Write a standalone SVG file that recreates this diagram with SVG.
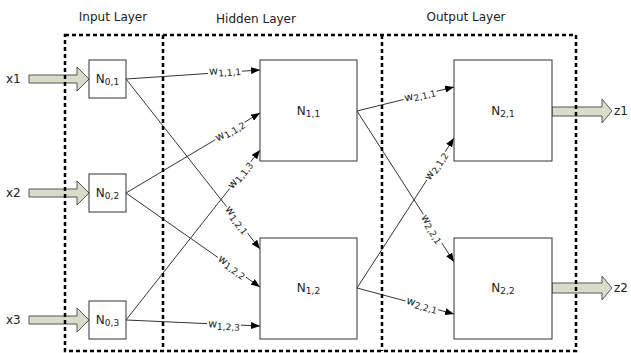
<svg xmlns="http://www.w3.org/2000/svg" width="631" height="353" viewBox="0 0 631 353">
<defs>
<marker id="ah" markerUnits="userSpaceOnUse" markerWidth="9" markerHeight="7" refX="9" refY="3.5" orient="auto"><path d="M0,0 L9,3.5 L0,7 z" fill="#000"/></marker>
<style>
text{font-family:"DejaVu Sans",Verdana,sans-serif;fill:#222}
.title{font-size:12px;text-anchor:middle}
.io{font-size:12px}
.nl{font-size:12px;text-anchor:middle}
.sub{font-size:9px}
.box{fill:#fff;stroke:#333;stroke-width:1}
.conn{stroke:#333;stroke-width:1;fill:none;marker-end:url(#ah)}
.wl{font-size:11px;text-anchor:middle}
.mask{fill:#fff}
.arr{fill:#dadcc9;stroke:#555;stroke-width:1}
.dash{fill:none;stroke:#000;stroke-width:2.5;stroke-dasharray:4,3}
</style>
</defs>
<g id="titles">
<text class="title" x="113" y="21">Input Layer</text>
<text class="title" x="256" y="23">Hidden Layer</text>
<text class="title" x="466" y="21">Output Layer</text>
</g>
<g id="inputs">
<text class="io" x="6" y="83">x1</text>
<polygon class="arr" points="29,75 77,75 77,67 89,79 77,91 77,83 29,83"/>
<text class="io" x="6" y="197">x2</text>
<polygon class="arr" points="29,189 77,189 77,181 89,193 77,205 77,197 29,197"/>
<text class="io" x="6" y="324">x3</text>
<polygon class="arr" points="29,316 77,316 77,308 89,320 77,332 77,324 29,324"/>
</g>
<g id="outputs">
<polygon class="arr" points="552,107 602,107 602,99 612,111 602,123 602,116 552,116"/>
<text class="io" x="614" y="115">z1</text>
<polygon class="arr" points="552,283 602,283 602,276 612,288 602,300 602,293 552,293"/>
<text class="io" x="614" y="292">z2</text>
</g>
<g id="connectors">
<line class="conn" x1="126" y1="79" x2="260" y2="70"/>
<line class="conn" x1="126" y1="79" x2="260" y2="249"/>
<line class="conn" x1="126" y1="193" x2="260" y2="113"/>
<line class="conn" x1="126" y1="193" x2="260" y2="287"/>
<line class="conn" x1="126" y1="320" x2="260" y2="150"/>
<line class="conn" x1="126" y1="320" x2="260" y2="326"/>
<line class="conn" x1="357" y1="111" x2="454" y2="87"/>
<line class="conn" x1="357" y1="111" x2="454" y2="262"/>
<line class="conn" x1="357" y1="288" x2="454" y2="138"/>
<line class="conn" x1="357" y1="288" x2="454" y2="314"/>
<g id="weights">
<g transform="translate(225,71) rotate(-3.8)"><rect class="mask" x="-17" y="-5" width="34" height="12"/><text class="wl" y="3">w<tspan class="sub" dy="2">1,1,1</tspan></text></g>
<g transform="translate(230,131) rotate(-30.8)"><rect class="mask" x="-17" y="-5" width="34" height="12"/><text class="wl" y="3">w<tspan class="sub" dy="2">1,1,2</tspan></text></g>
<g transform="translate(240,175) rotate(-51.7)"><rect class="mask" x="-17" y="-5" width="34" height="12"/><text class="wl" y="3">w<tspan class="sub" dy="2">1,1,3</tspan></text></g>
<g transform="translate(237,220) rotate(51.7)"><rect class="mask" x="-17" y="-5" width="34" height="12"/><text class="wl" y="3">w<tspan class="sub" dy="2">1,2,1</tspan></text></g>
<g transform="translate(232,267) rotate(35)"><rect class="mask" x="-17" y="-5" width="34" height="12"/><text class="wl" y="3">w<tspan class="sub" dy="2">1,2,2</tspan></text></g>
<g transform="translate(224,325) rotate(2.6)"><rect class="mask" x="-17" y="-5" width="34" height="12"/><text class="wl" y="3">w<tspan class="sub" dy="2">1,2,3</tspan></text></g>
<g transform="translate(420,95) rotate(-13.9)"><rect class="mask" x="-17" y="-5" width="34" height="12"/><text class="wl" y="3">w<tspan class="sub" dy="2">2,1,1</tspan></text></g>
<g transform="translate(436,166) rotate(-57)"><rect class="mask" x="-17" y="-5" width="34" height="12"/><text class="wl" y="3">w<tspan class="sub" dy="2">2,1,2</tspan></text></g>
<g transform="translate(432,229) rotate(57.3)"><rect class="mask" x="-17" y="-5" width="34" height="12"/><text class="wl" y="3">w<tspan class="sub" dy="2">2,2,1</tspan></text></g>
<g transform="translate(422,305) rotate(15)"><rect class="mask" x="-17" y="-5" width="34" height="12"/><text class="wl" y="3">w<tspan class="sub" dy="2">2,2,1</tspan></text></g>
</g>
</g>
<g id="N01"><rect class="box" x="89" y="60" width="37" height="38"/><text class="nl" x="107.5" y="83">N<tspan class="sub" dy="2">0,1</tspan></text></g>
<g id="N02"><rect class="box" x="89" y="174" width="37" height="38"/><text class="nl" x="107.5" y="197">N<tspan class="sub" dy="2">0,2</tspan></text></g>
<g id="N03"><rect class="box" x="89" y="301" width="37" height="38"/><text class="nl" x="107.5" y="324">N<tspan class="sub" dy="2">0,3</tspan></text></g>
<g id="N11"><rect class="box" x="260" y="60" width="97" height="101"/><text class="nl" x="308.5" y="115">N<tspan class="sub" dy="2">1,1</tspan></text></g>
<g id="N12"><rect class="box" x="260" y="238" width="97" height="101"/><text class="nl" x="308.5" y="292">N<tspan class="sub" dy="2">1,2</tspan></text></g>
<g id="N21"><rect class="box" x="454" y="60" width="98" height="101"/><text class="nl" x="503" y="115">N<tspan class="sub" dy="2">2,1</tspan></text></g>
<g id="N22"><rect class="box" x="454" y="238" width="98" height="101"/><text class="nl" x="503" y="292">N<tspan class="sub" dy="2">2,2</tspan></text></g>
<g id="layers">
<rect class="dash" x="65" y="35" width="511" height="316"/>
<line class="dash" x1="163" y1="35" x2="163" y2="351"/>
<line class="dash" x1="382" y1="35" x2="382" y2="351"/>
</g>
</svg>
